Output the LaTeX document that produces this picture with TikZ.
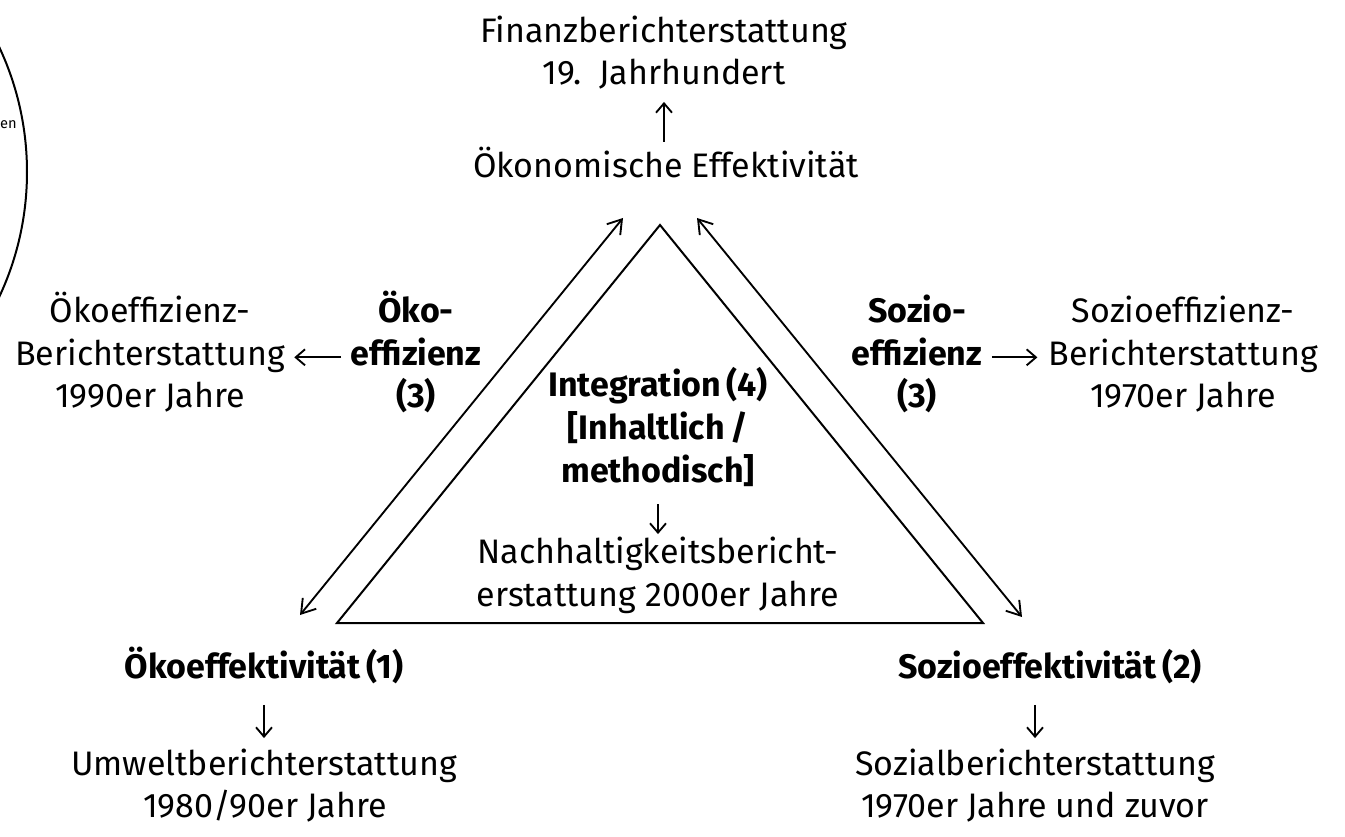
\documentclass[tikz,border=0pt]{standalone}
\usepackage{fontspec}
\setmainfont{Fira Sans}
\usetikzlibrary{arrows.meta}
\begin{document}
\begin{tikzpicture}[x=0.75pt,y=-0.75pt,
  txt/.style={inner sep=0pt, anchor=base, text height=19.5pt, text depth=6.5pt,
    font=\fontsize{25.5}{32}\selectfont},
  txtb/.style={txt, font=\fontsize{25.5}{32}\selectfont\bfseries},
  link/.style={line width=1.4pt, -{Straight Barb[length=7pt,width=12pt]}},
  bilink/.style={line width=1.4pt,
    {Straight Barb[length=10pt,width=13pt]}-{Straight Barb[length=10pt,width=13pt]}},
  frame/.style={line width=1.5pt, line join=miter}]

\useasboundingbox (0,0) rectangle (1345,837);
\fill[white] (0,0) rectangle (1345,837);

% partly visible neighbouring circle on the left edge
\begin{scope}
  \clip (0,0) rectangle (1345,837);
  \draw[line width=1.5pt] (-267,172) circle[radius=220.5pt];
  \node[font=\fontsize{11}{13}\selectfont, inner sep=0pt, anchor=base east] (en) at (17,129) {en};
\end{scope}

% central triangle
\coordinate (apex) at (660,225);
\coordinate (bl) at (337,623);
\coordinate (br) at (983,623);
\draw[frame] (apex) -- (bl) -- (br) -- cycle;

% double arrows along the sides
\coordinate (la1) at (300,615);
\coordinate (la2) at (623,218);
\coordinate (ra1) at (697,218);
\coordinate (ra2) at (1022,617);
\draw[bilink] (la1) -- (la2);
\draw[bilink] (ra1) -- (ra2);

% top
\node[txt] (fin1) at (664,43) {Finanzberichterstattung};
\node[txt] (fin2) at (664,85) {19.\ \ Jahrhundert};
\node[txt] (oek) at (666,178) {Ökonomische Effektivität};
\draw[link, shorten <=7.5pt, shorten >=6pt] (fin2.south |- oek.north) -- (fin2.south);

% left: eco-efficiency
\node[txt] (oe1) at (150,323) {Ökoeffizienz-};
\node[txt] (oe2) at (150,366) {Berichterstattung};
\node[txt] (oe3) at (150,408) {1990er Jahre};
\node[txtb] (eo1) at (416,323) {Öko-};
\node[txtb] (eo2) at (416,366) {effizienz};
\node[txtb] (eo3) at (416,408) {(3)};
\draw[link, shorten <=7pt, shorten >=7pt] (eo2.west) -- (oe2.east);

% right: socio-efficiency
\node[txtb] (so1) at (917,323) {Sozio-};
\node[txtb] (so2) at (917,366) {effizienz};
\node[txtb] (so3) at (917,408) {(3)};
\node[txt] (se1) at (1183,323) {Sozioeffizienz-};
\node[txt] (se2) at (1183,366) {Berichterstattung};
\node[txt] (se3) at (1183,408) {1970er Jahre};
\draw[link, shorten <=7pt, shorten >=8pt] (so2.east) -- (se2.west);

% centre: integration
\node[txtb] (in1) at (658,397) {Integration\,(4)};
\node[txtb] (in2) at (658,440) {[Inhaltlich\,/};
\node[txtb] (in3) at (658,482) {methodisch]};
\node[txt] (na1) at (658,563) {Nachhaltigkeitsbericht-};
\node[txt] (na2) at (658,606) {erstattung 2000er Jahre};
\draw[link, shorten <=10pt, shorten >=2pt] (in3.south) -- (na1.north);

% bottom left: eco-effectiveness
\node[txtb] (ek) at (264,678) {Ökoeffektivität\,(1)};
\node[txt] (um1) at (264,775) {Umweltberichterstattung};
\node[txt] (um2) at (265,817) {1980/90er Jahre};
\draw[link, shorten <=13.5pt, shorten >=8pt] (ek.south) -- (um1.north);

% bottom right: socio-effectiveness
\node[txtb] (sk) at (1050,678) {Sozioeffektivität\,(2)};
\node[txt] (sz1) at (1035,775) {Sozialberichterstattung};
\node[txt] (sz2) at (1035,817) {1970er Jahre und zuvor};
\draw[link, shorten <=13.5pt, shorten >=8pt] (sz1.north |- sk.south) -- (sz1.north);

\end{tikzpicture}
\end{document}
